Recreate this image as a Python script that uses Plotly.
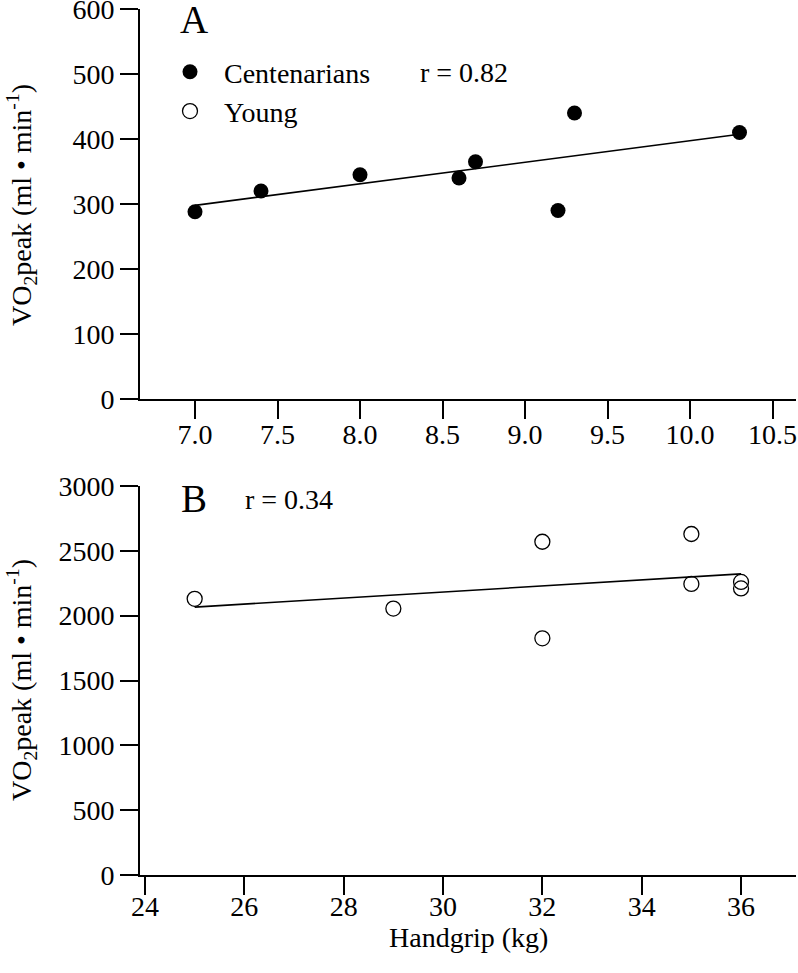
import numpy as np
import plotly.graph_objects as go
from plotly.subplots import make_subplots

# Panel A: centenarians
cent_grip = [7.0, 7.4, 8.0, 8.6, 8.7, 9.2, 9.3, 10.3]
cent_vo2 = [288, 320, 345, 340, 365, 290, 440, 410]
# Panel B: young
young_grip = [25, 29, 32, 32, 35, 35, 36, 36]
young_vo2 = [2130, 2055, 2570, 1825, 2630, 2245, 2260, 2210]

a_ticks = [7.0, 7.5, 8.0, 8.5, 9.0, 9.5, 10.0, 10.5]
a_ticktext = ["7.0", "7.5", "8.0", "8.5", "9.0", "9.5", "10.0", "10.5"]
b_ticks = [24, 26, 28, 30, 32, 34, 36]
a_yticks = [0, 100, 200, 300, 400, 500, 600]
b_yticks = [0, 500, 1000, 1500, 2000, 2500, 3000]

r_a = "r = 0.82"
r_b = "r = 0.34"

W, H = 798, 973
L, R, T, B = 140, 2, 9, 98
PW, PH = W - L - R, H - T - B


def px(x):
    return (x - L) / PW


def py(y):
    return (H - B - y) / PH


FONT = "Liberation Serif"
FS = 28

fig = make_subplots(rows=2, cols=1, vertical_spacing=0.1)


def fitline(xs, ys):
    m, c = np.polyfit(xs, ys, 1)
    xx = np.array([min(xs), max(xs)])
    return xx, m * xx + c


xa, ya = fitline(cent_grip, cent_vo2)
xb, yb = fitline(young_grip, young_vo2)

fig.add_trace(go.Scatter(x=xa, y=ya, mode="lines", line=dict(color="black", width=1.6),
                         showlegend=False, hoverinfo="skip"), row=1, col=1)
fig.add_trace(go.Scatter(x=cent_grip, y=cent_vo2, mode="markers", name="Centenarians",
                         marker=dict(symbol="circle", size=15, color="black")), row=1, col=1)
fig.add_trace(go.Scatter(x=xb, y=yb, mode="lines", line=dict(color="black", width=1.6),
                         showlegend=False, hoverinfo="skip"), row=2, col=1)
fig.add_trace(go.Scatter(x=young_grip, y=young_vo2, mode="markers", name="Young",
                         marker=dict(symbol="circle-open", size=15, color="black",
                                     line=dict(width=1.3, color="black"))), row=2, col=1)

axis_common = dict(showgrid=False, zeroline=False, showline=True, linecolor="black",
                   linewidth=2, ticks="outside", ticklen=18, tickwidth=2, tickcolor="black",
                   automargin=False, ticklabeloverflow="allow",
                   tickfont=dict(family=FONT, size=FS, color="black"))

fig.update_xaxes(**axis_common)
fig.update_yaxes(**axis_common)

fig.update_xaxes(range=[7.0 - 55 / 165, 7.0 + (W - R - 195) / 165], tickvals=a_ticks,
                 ticktext=a_ticktext, domain=[0, 1], ticklabelstandoff=-9, row=1, col=1)
fig.update_xaxes(range=[24 - 5 / 49.67, 24 + (W - R - 145) / 49.67], tickvals=b_ticks,
                 domain=[0, 1], ticklabelstandoff=-13, row=2, col=1)
fig.update_yaxes(range=[0, 600], tickvals=a_yticks, domain=[py(399), py(9)], row=1, col=1)
fig.update_yaxes(range=[0, 3000], tickvals=b_yticks, domain=[py(875), py(486)], row=2, col=1)

ytitle = "VO<sub>2</sub>peak (ml • min<sup>-1</sup>)"
anns = [
    dict(text=ytitle, x=px(21), y=py(205), textangle=-90),
    dict(text=ytitle, x=px(21), y=py(680), textangle=-90),
    dict(text="Handgrip (kg)", x=px(469), y=py(937)),
    dict(text="A", x=px(194), y=py(20), font=dict(family=FONT, size=39, color="black")),
    dict(text="B", x=px(194), y=py(498), font=dict(family=FONT, size=39, color="black")),
    dict(text=r_a, x=px(464), y=py(73)),
    dict(text=r_b, x=px(289), y=py(499)),
]
for a in anns:
    a.setdefault("font", dict(family=FONT, size=FS, color="black"))
    fig.add_annotation(xref="paper", yref="paper", xanchor="center", yanchor="middle",
                       showarrow=False, **a)

fig.update_layout(
    template="none",
    width=W, height=H,
    margin=dict(l=L, r=R, t=T, b=B),
    paper_bgcolor="white", plot_bgcolor="white",
    font=dict(family=FONT, size=FS, color="black"),
    showlegend=True,
    legend=dict(x=px(156), y=py(47), xanchor="left", yanchor="top",
                bgcolor="rgba(0,0,0,0)", borderwidth=0,
                font=dict(family=FONT, size=FS, color="black"),
                itemwidth=58, tracegroupgap=0),
)

fig.write_html("out.html", config={"displayModeBar": False},
               post_script="document.body.style.margin='0';")
